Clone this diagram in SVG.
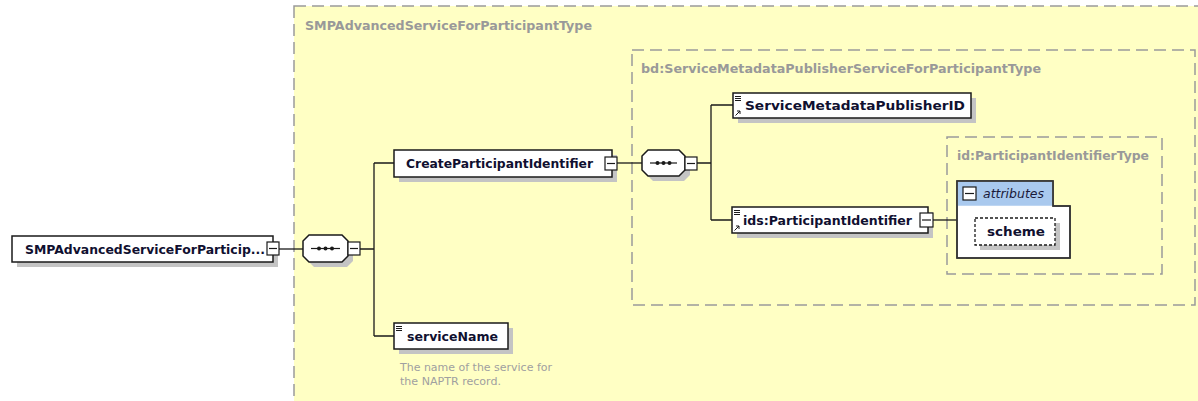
<svg xmlns="http://www.w3.org/2000/svg" width="1198" height="401" viewBox="0 0 1198 401">
<style>
.bg{fill:#ffffff}
.type{fill:#ffffc4;stroke:#9a9a9a;stroke-width:1.5;stroke-dasharray:12 6}
.tlabel{font-family:"DejaVu Sans","Liberation Sans",sans-serif;font-weight:bold;font-size:12.5px;fill:#999999}
.node{fill:#ffffff;stroke:#1a1a1a;stroke-width:1.5}
.shadow{fill:#c4c4c4}
.ntext{font-family:"DejaVu Sans","Liberation Sans",sans-serif;font-weight:bold;font-size:13px;fill:#101030}
.btn{fill:#ffffff;stroke:#1a1a1a;stroke-width:1.2}
.minus{stroke:#1a1a1a;stroke-width:1.2}
.conn{fill:none;stroke:#1a1a1a;stroke-width:1.3}
.desc{font-family:"DejaVu Sans","Liberation Sans",sans-serif;font-size:11px;fill:#a0a0a0}
.icon{stroke:#1a1a1a;stroke-width:1;fill:none}
</style>
<rect class="bg" x="0" y="0" width="1198" height="401"/>
<g id="type-SMPAdvancedServiceForParticipantType">
<rect class="type" x="294" y="6" width="1000" height="500"/>
<text class="tlabel" x="305" y="30" textLength="287" lengthAdjust="spacingAndGlyphs">SMPAdvancedServiceForParticipantType</text>
</g>
<g id="type-ServiceMetadataPublisherServiceForParticipantType">
<rect class="type" x="632" y="50" width="563" height="255"/>
<text class="tlabel" x="641" y="73" textLength="400" lengthAdjust="spacingAndGlyphs">bd:ServiceMetadataPublisherServiceForParticipantType</text>
</g>
<g id="type-ParticipantIdentifierType">
<rect class="type" x="947" y="137" width="215" height="137"/>
<text class="tlabel" x="957" y="160" textLength="192" lengthAdjust="spacingAndGlyphs">id:ParticipantIdentifierType</text>
</g>
<g id="connectors">
<path class="conn" d="M279,249 H303"/>
<path class="conn" d="M360,249 H374 M374,163 V336 M374,163 H394 M374,336 H394"/>
<path class="conn" d="M617,163 H642"/>
<path class="conn" d="M697,163 H711 M711,105 V220 M711,105 H733 M711,220 H732"/>
<path class="conn" d="M933,220 H957"/>
</g>
<g id="node-root">
<rect class="shadow" x="17" y="241" width="261" height="26"/>
<rect class="node" x="12" y="236" width="261" height="26"/>
<text class="ntext" x="25" y="254" textLength="240" lengthAdjust="spacingAndGlyphs">SMPAdvancedServiceForParticip...</text>
<rect class="btn" x="267" y="242" width="12" height="13"/>
<path class="minus" d="M269,248.5 H277"/>
</g>
<g id="node-seq1">
<polygon class="shadow" points="314,240 347,240 353,246 353,261 347,267 314,267 308,261 308,246"/>
<polygon class="node" points="309,235 342,235 348,241 348,256 342,262 309,262 303,256 303,241"/>
<path class="minus" d="M311,248.5 H340"/>
<circle cx="319" cy="248.5" r="2" fill="#1a1a1a"/>
<circle cx="325.5" cy="248.5" r="2" fill="#1a1a1a"/>
<circle cx="332" cy="248.5" r="2" fill="#1a1a1a"/>
<rect class="btn" x="348" y="242" width="12" height="13"/>
<path class="minus" d="M350,248.5 H358"/>
</g>
<g id="node-CreateParticipantIdentifier">
<rect class="shadow" x="399" y="155" width="218" height="27"/>
<rect class="node" x="394" y="150" width="218" height="27"/>
<text class="ntext" x="406" y="168" textLength="187" lengthAdjust="spacingAndGlyphs">CreateParticipantIdentifier</text>
<rect class="btn" x="605" y="157" width="12" height="13"/>
<path class="minus" d="M607,163.5 H615"/>
</g>
<g id="node-seq2">
<polygon class="shadow" points="653,155 684,155 690,161 690,175 684,181 653,181 647,175 647,161"/>
<polygon class="node" points="648,150 679,150 685,156 685,170 679,176 648,176 642,170 642,156"/>
<path class="minus" d="M650,163 H677"/>
<circle cx="657.5" cy="163" r="2" fill="#1a1a1a"/>
<circle cx="663.5" cy="163" r="2" fill="#1a1a1a"/>
<circle cx="669.5" cy="163" r="2" fill="#1a1a1a"/>
<rect class="btn" x="685" y="157" width="12" height="13"/>
<path class="minus" d="M687,163.5 H695"/>
</g>
<g id="node-ServiceMetadataPublisherID">
<rect class="shadow" x="738" y="98" width="238" height="25"/>
<rect class="node" x="733" y="93" width="238" height="25"/>
<path class="icon" d="M735,96.5 H741 M735,98.5 H741 M735,100.5 H741"/>
<path class="icon" d="M735.5,115.5 L740,111 M737,111 H740 V114" stroke-width="1.8"/>
<text class="ntext" x="745" y="110" textLength="220" lengthAdjust="spacingAndGlyphs">ServiceMetadataPublisherID</text>
</g>
<g id="node-ParticipantIdentifier">
<rect class="shadow" x="737" y="212" width="196" height="26"/>
<rect class="node" x="732" y="207" width="196" height="26"/>
<path class="icon" d="M734,210.5 H740 M734,212.5 H740 M734,214.5 H740"/>
<path class="icon" d="M734.5,230.5 L739,226 M736,226 H739 V229" stroke-width="1.8"/>
<text class="ntext" x="743" y="225" textLength="169" lengthAdjust="spacingAndGlyphs">ids:ParticipantIdentifier</text>
<rect class="btn" x="920" y="213" width="13" height="14"/>
<path class="minus" d="M922,220 H931"/>
</g>
<g id="node-attributes">
<path d="M957,181 H1053 V206 H1070 V258 H957 Z" fill="#ffffff" stroke="#333333" stroke-width="1.5"/>
<rect x="957.75" y="181.75" width="94.5" height="24" fill="#a9c9ee"/>
<path d="M957,181 H1053 V206 H1070 V258 H957 Z" fill="none" stroke="#333333" stroke-width="1.5"/>
<rect class="btn" x="963" y="187" width="13" height="13"/>
<path class="minus" d="M965,193.5 H974"/>
<text x="983" y="198" font-family="DejaVu Sans, Liberation Sans, sans-serif" font-style="italic" font-size="12.5" fill="#1a1a3a" textLength="61" lengthAdjust="spacingAndGlyphs">attributes</text>
</g>
<g id="node-scheme">
<rect class="shadow" x="980" y="223" width="80" height="27"/>
<rect x="975" y="218" width="80" height="27" fill="#ffffff" stroke="#1a1a1a" stroke-width="1.3" stroke-dasharray="3 2"/>
<text class="ntext" x="987" y="236" textLength="58" lengthAdjust="spacingAndGlyphs">scheme</text>
</g>
<g id="node-serviceName">
<rect class="shadow" x="399" y="328" width="114" height="26"/>
<rect class="node" x="394" y="323" width="114" height="26"/>
<path class="icon" d="M396,326.5 H402 M396,328.5 H402 M396,330.5 H402"/>
<text class="ntext" x="407" y="341" textLength="91" lengthAdjust="spacingAndGlyphs">serviceName</text>
<text class="desc" x="400" y="371" textLength="152" lengthAdjust="spacingAndGlyphs">The name of the service for</text>
<text class="desc" x="400" y="385" textLength="101" lengthAdjust="spacingAndGlyphs">the NAPTR record.</text>
</g>
</svg>
